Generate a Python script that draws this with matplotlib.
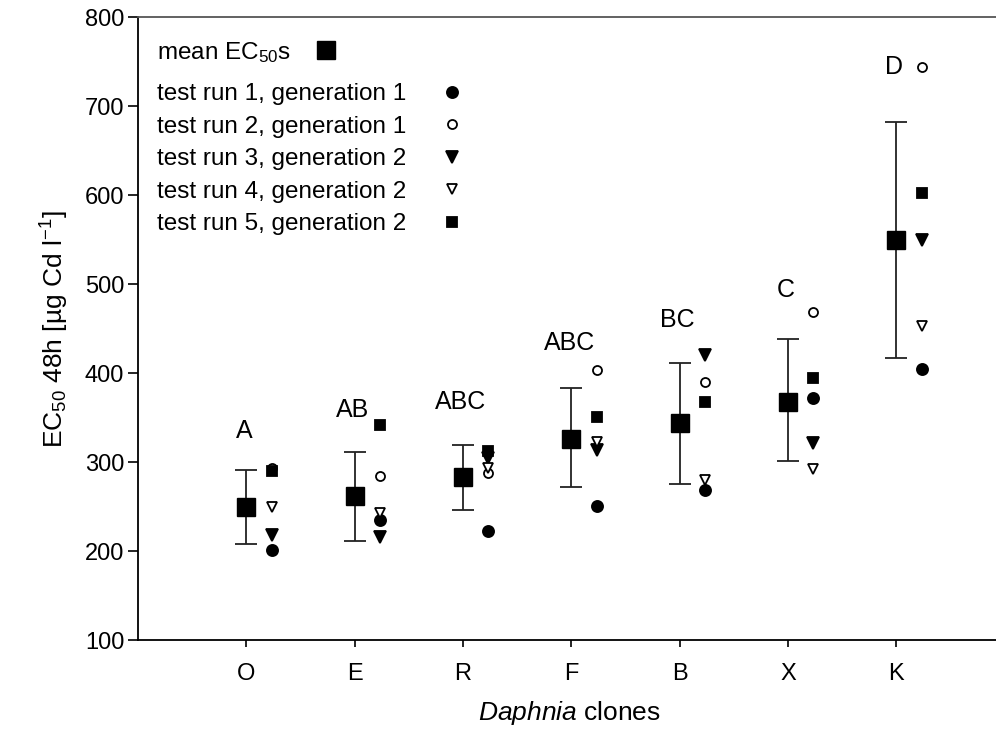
import matplotlib
matplotlib.use("Agg")
import matplotlib.pyplot as plt
import numpy as np

plt.rcParams["font.family"] = ["Liberation Sans", "DejaVu Sans"]
plt.rcParams["mathtext.fontset"] = "custom"
plt.rcParams["mathtext.rm"] = "Liberation Sans"
plt.rcParams["mathtext.it"] = "Liberation Sans:italic"

clones = ["O", "E", "R", "F", "B", "X", "K"]
mean_ec50 = [250, 262, 284, 326, 344, 368, 550]
err_low = [208, 212, 246, 272, 276, 302, 417]
err_high = [291, 312, 319, 383, 412, 438, 682]
letters = ["A", "AB", "ABC", "ABC", "BC", "C", "D"]
letter_y = [335, 359, 368, 434, 460, 494, 744]

run1 = [202, 235, 223, 251, 269, 372, 405]
run2 = [294, 285, 288, 404, 390, 469, 744]
run3 = [218, 216, 305, 314, 421, 322, 550]
run4 = [250, 243, 294, 323, 280, 292, 453]
run5 = [290, 342, 313, 351, 368, 395, 602]

run_labels = ["test run 1, generation 1", "test run 2, generation 1",
              "test run 3, generation 2", "test run 4, generation 2",
              "test run 5, generation 2"]
run_styles = [("o", "k", 8), ("o", "white", 6.5), ("v", "k", 8),
              ("v", "white", 7.5), ("s", "k", 7)]

fig = plt.figure(figsize=(9.96, 7.36), dpi=100)
ax = fig.add_axes([0.1386, 0.1298, 0.95, 0.847])

x = np.arange(1, len(clones) + 1)
off = 0.235
mean = np.array(mean_ec50)
yerr = [mean - np.array(err_low), np.array(err_high) - mean]

h_mean = ax.errorbar(x, mean, yerr=yerr, fmt="s", color="k", ms=13,
                     ecolor="#222222", elinewidth=1.3, capsize=8,
                     capthick=1.3, label="mean EC$_{50}$s", zorder=3)

handles = []
for vals, lab, (m, fc, ms) in zip([run1, run2, run3, run4, run5],
                                  run_labels, run_styles):
    h, = ax.plot(x + off, vals, ls="none", marker=m, ms=ms, mfc=fc,
                 mec="k", mew=1.3, label=lab, zorder=4)
    handles.append(h)

for xi, t, ty in zip(x, letters, letter_y):
    ax.text(xi - 0.02, ty, t, ha="center", va="center", fontsize=18)

ax.set_xlim(0, 0.95 * 996 / 108.3)
ax.set_ylim(100, 800)
ax.set_xticks(x)
ax.set_xticklabels(clones)
ax.set_yticks(np.arange(100, 801, 100))
ax.tick_params(axis="both", labelsize=17, width=1.2, direction="out")
ax.tick_params(axis="y", length=7, pad=3)
ax.tick_params(axis="x", length=5, pad=11)
ax.spines["right"].set_visible(False)
for s in ["left", "top", "bottom"]:
    ax.spines[s].set_linewidth(1.3)
ax.spines["top"].set_color("#555555")

ax.set_xlabel("$\\it{Daphnia}$ clones", fontsize=19, labelpad=10)
ax.xaxis.label.set_x(0.4555)
ax.set_ylabel("EC$_{50}$ 48h [µg Cd l$^{-1}$]", fontsize=19, labelpad=10)

leg1 = ax.legend([h_mean[0]], ["mean EC$_{50}$s"], loc="upper left",
                 bbox_to_anchor=(0.0, 0.995), frameon=False, markerfirst=False,
                 fontsize=17.5, handlelength=1.0, handletextpad=0.9,
                 borderaxespad=0.4)
ax.add_artist(leg1)
ax.legend(handles, run_labels, loc="upper left", bbox_to_anchor=(0.0, 0.925),
          frameon=False, markerfirst=False, fontsize=17.5, handlelength=1.0,
          handletextpad=1.37, labelspacing=0.43, borderaxespad=0.4)

fig.savefig("out.png", dpi=100)
